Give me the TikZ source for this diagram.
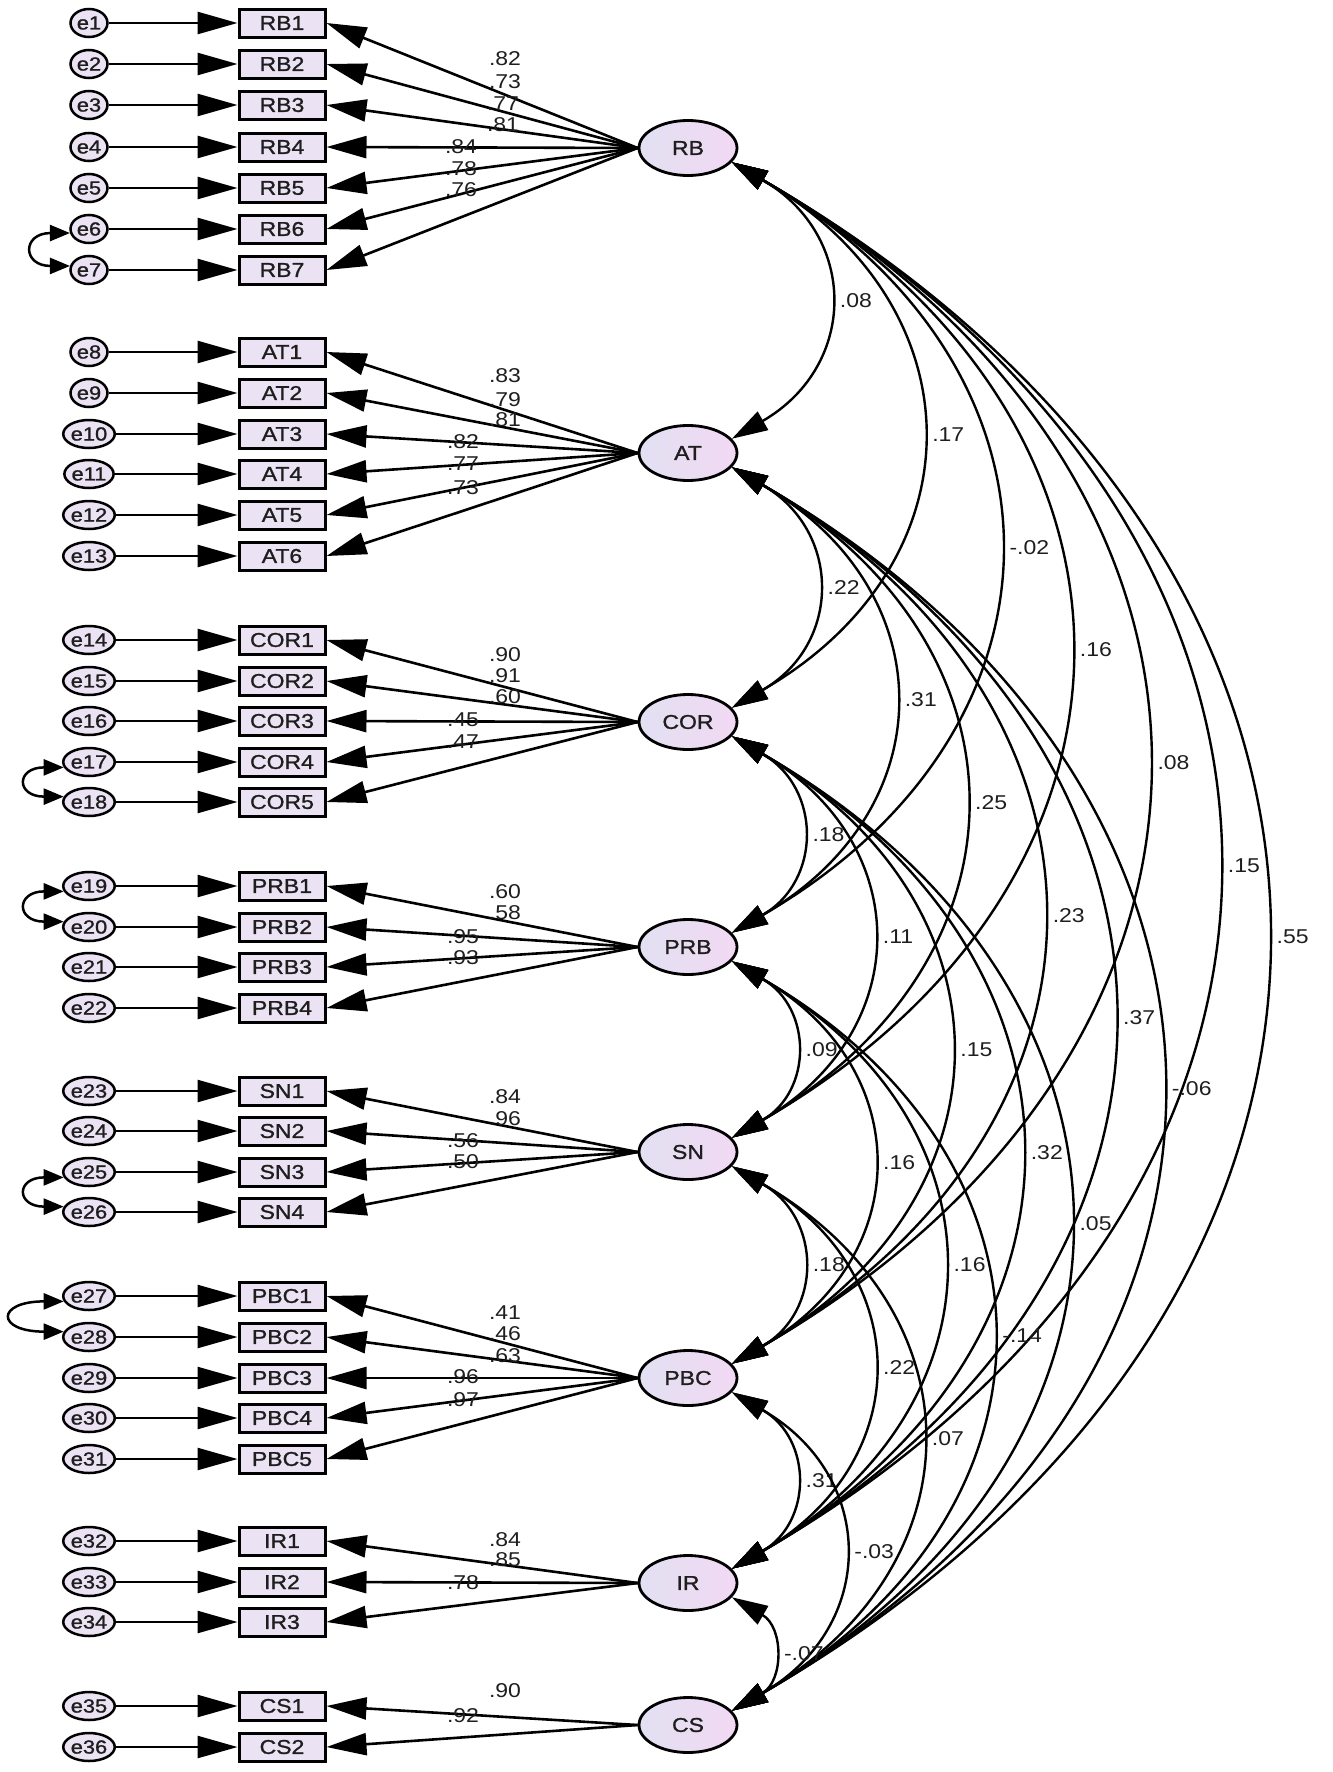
\documentclass[tikz,border=0pt]{standalone}
\usepackage{fontspec}
\setmainfont{Liberation Sans}[FakeStretch=1.15]
\newfontfamily\nodefont{Liberation Sans}[FakeStretch=1.15,FakeBold=1.2]
\usetikzlibrary{arrows.meta,shapes.geometric,calc}
\definecolor{boxfill}{HTML}{EBE2F3}
\definecolor{latL}{HTML}{E2E0F2}
\definecolor{latR}{HTML}{F2D9F3}
\definecolor{txt}{HTML}{1E1E1E}
\tikzset{
  err/.style={ellipse,draw,line width=2.5pt,minimum width=37pt,minimum height=28pt,inner sep=0pt,fill=boxfill,text=txt,font=\nodefont\fontsize{19}{19}\selectfont},
  obs/.style={rectangle,draw,line width=3pt,minimum width=86pt,minimum height=28pt,inner sep=0pt,fill=boxfill,text=txt,font=\nodefont\fontsize{20}{20}\selectfont},
  lat/.style={ellipse,draw,line width=2.8pt,minimum width=98pt,minimum height=55pt,inner sep=0pt,left color=latL,right color=latR,text=txt,font=\nodefont\fontsize{20}{20}\selectfont},
  arr/.style={-{Triangle[length=40pt,width=22pt]},line width=2.6pt},
  cov/.style={{Triangle[length=36pt,width=21pt]}-{Triangle[length=36pt,width=21pt]},line width=2.4pt},
  ecov/.style={{Triangle[length=20pt,width=16pt]}-{Triangle[length=20pt,width=16pt]},line width=2.5pt},
  lbl/.style={inner sep=0pt,text=txt,font=\fontsize{20}{20}\selectfont},
  clbl/.style={lbl,pos=0.5,right=12pt}
}
\begin{document}
\begin{tikzpicture}[x=1pt,y=-1pt]
\useasboundingbox (0,0) rectangle (1333,1772);
% latent variables
\node[lat] (RB)  at (688,148)  {RB};
\node[lat] (AT)  at (688,453)  {AT};
\node[lat] (COR) at (688,722)  {COR};
\node[lat] (PRB) at (688,947)  {PRB};
\node[lat] (SN)  at (688,1152) {SN};
\node[lat] (PBC) at (688,1378) {PBC};
\node[lat] (IR)  at (688,1583) {IR};
\node[lat] (CS)  at (688,1725) {CS};
% indicators and errors
\foreach \n/\y/\e/\L in {RB1/23/e1/RB,RB2/64/e2/RB,RB3/105/e3/RB,RB4/147/e4/RB,RB5/188/e5/RB,RB6/229/e6/RB,RB7/270/e7/RB,
  AT1/352/e8/AT,AT2/393/e9/AT,AT3/434/e10/AT,AT4/474/e11/AT,AT5/515/e12/AT,AT6/556/e13/AT,
  COR1/640/e14/COR,COR2/681/e15/COR,COR3/721/e16/COR,COR4/762/e17/COR,COR5/802/e18/COR,
  PRB1/886/e19/PRB,PRB2/927/e20/PRB,PRB3/967/e21/PRB,PRB4/1008/e22/PRB,
  SN1/1091/e23/SN,SN2/1131/e24/SN,SN3/1172/e25/SN,SN4/1212/e26/SN,
  PBC1/1296/e27/PBC,PBC2/1337/e28/PBC,PBC3/1378/e29/PBC,PBC4/1418/e30/PBC,PBC5/1459/e31/PBC,
  IR1/1541/e32/IR,IR2/1582/e33/IR,IR3/1622/e34/IR,
  CS1/1706/e35/CS,CS2/1747/e36/CS}{
  \node[err] (\e) at (89,\y) {\e};
  \node[obs] (\n) at (282,\y) {\n};
  \draw[arr] (\e) -- (\n);
  \draw[arr] (\L.west) -- (\n.east);
}
% loading labels
\foreach \t/\x/\y in {.82/505/59,.73/505/82,.77/503/104,.81/503/125,.84/461/147,.78/461/169,.76/461/190,
  .83/505/376,.79/505/400,.81/505/420,.82/463/442,.77/463/464,.73/463/488,
  .90/505/655,.91/505/676,.60/505/697,.45/463/720,.47/463/742,
  .60/505/892,.58/505/913,.95/463/937,.93/463/958,
  .84/505/1097,.96/505/1119,.56/463/1141,.50/463/1162,
  .41/505/1313,.46/505/1334,.63/505/1356,.96/463/1377,.97/463/1400,
  .84/505/1540,.85/505/1560,.78/463/1583,
  .90/505/1691,.92/463/1716}{
  \node[lbl] at (\x,\y) {\t};
}
% error covariances
\draw[ecov] (e6.192) .. controls +(-48,0) and +(-48,0) .. (e7.168);
\draw[ecov] (e17.192) .. controls +(-48,0) and +(-48,0) .. (e18.168);
\draw[ecov] (e19.192) .. controls +(-48,0) and +(-48,0) .. (e20.168);
\draw[ecov] (e25.192) .. controls +(-48,0) and +(-48,0) .. (e26.168);
\draw[ecov] (e27.192) .. controls +(-68,0) and +(-68,0) .. (e28.168);
% latent covariances
\foreach \A/\B/\t in {RB/AT/.08,RB/COR/.17,RB/PRB/-.02,RB/SN/.16,RB/PBC/.08,RB/IR/.15,RB/CS/.55,
  AT/COR/.22,AT/PRB/.31,AT/SN/.25,AT/PBC/.23,AT/IR/.37,AT/CS/-.06,
  COR/PRB/.18,COR/SN/.11,COR/PBC/.15,COR/IR/.32,COR/CS/.05,
  PRB/SN/.09,PRB/PBC/.16,PRB/IR/.16,PRB/CS/-.14,
  SN/PBC/.18,SN/IR/.22,SN/CS/.07,
  PBC/IR/.31,PBC/CS/-.03,
  IR/CS/-.07}{
  \draw[cov] let \p1=(\A.-18), \p2=(\B.18), \n1={\y1-\y2} in
    (\A.-18) .. controls +(0.4577*\n1,-0.2643*\n1) and +(0.4577*\n1,0.2643*\n1) .. (\B.18)
    node[clbl]{\t};
}
\end{tikzpicture}
\end{document}
